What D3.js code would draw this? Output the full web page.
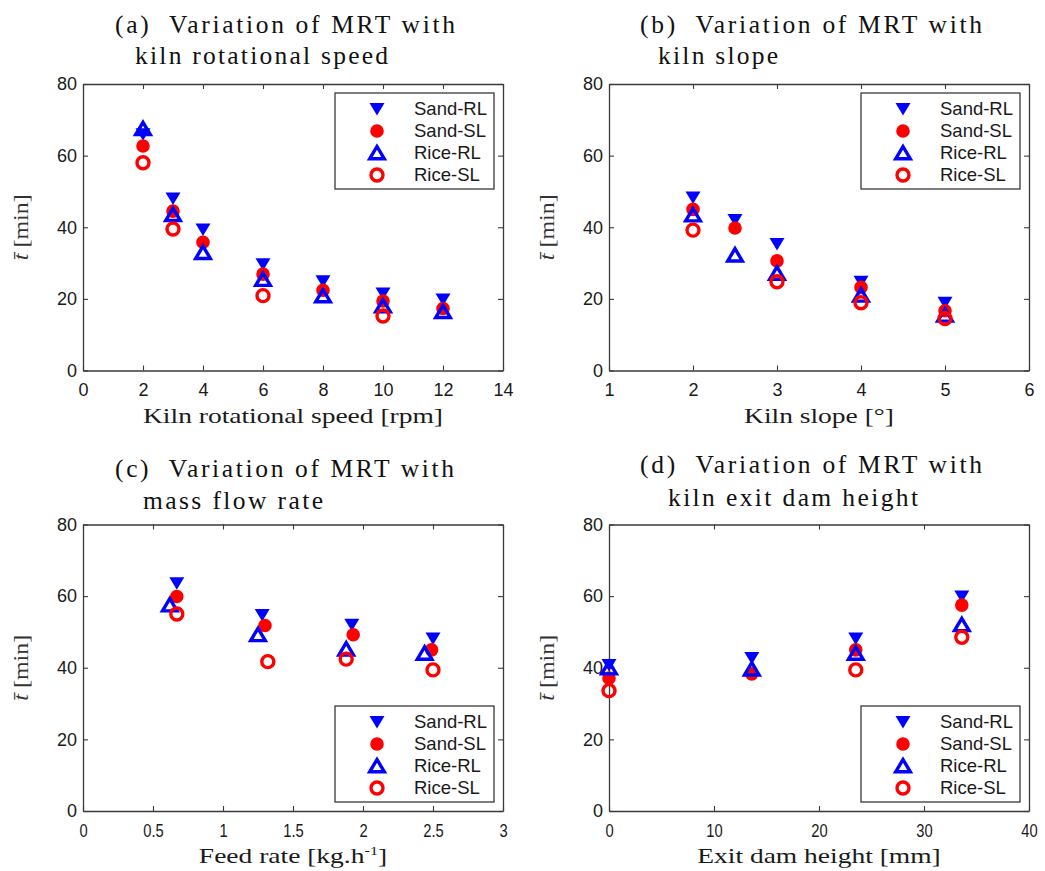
<!DOCTYPE html>
<html>
<head>
<meta charset="utf-8">
<script src="https://cdn.jsdelivr.net/npm/d3@7"></script>
<style>
  body { margin: 0; background: #fff; }
  svg { display: block; }
</style>
</head>
<body>
<div id="chart"></div>
<script>
// ---- data ----
const seriesNames = ["Sand-RL", "Sand-SL", "Rice-RL", "Rice-SL"];
const yTicks = [0, 20, 40, 60, 80];

// (a) kiln rotational speed
const speedTicks = [0, 2, 4, 6, 8, 10, 12, 14];
const speedX = [2, 3, 4, 6, 8, 10, 12];
const speedSandRL = [66, 48, 39.4, 29.7, 24.9, 21.5, 19.8];
const speedSandSL = [62.7, 44.5, 35.8, 26.9, 22.4, 19.4, 17.3];
const speedRiceRL = [67.5, 43.5, 32.9, 25.4, 20.8, 18.0, 16.4];
const speedRiceSL = [58.0, 39.5, null, 20.9, null, 15.2, null];

// (b) kiln slope
const slopeTicks = [1, 2, 3, 4, 5, 6];
const slopeX = [2, 2.5, 3, 4, 5];
const slopeSandRL = [48.3, 42.0, 35.3, 24.8, 18.9];
const slopeSandSL = [45.0, 39.8, 30.6, 23.2, 16.7];
const slopeRiceRL = [43.4, 32.2, 27.1, 21.0, 15.4];
const slopeRiceSL = [39.2, null, 24.8, 18.9, 14.5];

// (c) feed rate (each series sits at slightly different x)
const feedTicks = [0, 0.5, 1, 1.5, 2, 2.5, 3];
const feedSandRLx = [0.67, 1.28, 1.92, 2.50];
const feedSandRL = [63.6, 54.7, 52.0, 48.2];
const feedSandSLx = [0.67, 1.30, 1.93, 2.49];
const feedSandSL = [59.9, 51.8, 49.2, 45.0];
const feedRiceRLx = [0.62, 1.25, 1.88, 2.44];
const feedRiceRL = [57.5, 49.2, 45.2, 44.0];
const feedRiceSLx = [0.67, 1.32, 1.88, 2.50];
const feedRiceSL = [55.0, 41.7, 42.4, 39.4];

// (d) exit dam height
const damTicks = [0, 10, 20, 30, 40];
const damX = [0, 13.6, 23.5, 33.6];
const damSandRL = [40.8, 42.7, 48.2, 59.9];
const damSandSL = [37.1, 38.3, 45.0, 57.5];
const damRiceRL = [39.9, 39.6, 44.0, 52.0];
const damRiceSL = [33.6, null, 39.4, 48.5];

// ---- layout ----
const W = 420, H = 286.5;
const frameColor = "#3a3a3a";
const sansFont = "'Liberation Sans', Arial, sans-serif";
const serifFont = "'Liberation Serif', 'Times New Roman', serif";
const labelStretch = 1.25;   // Computer Modern is wider than Times

const svg = d3.select("#chart").append("svg")
  .attr("width", 1045)
  .attr("height", 871);

const circle = r => d3.arc()({ innerRadius: 0, outerRadius: r, startAngle: 0, endAngle: 2 * Math.PI });

// marker paths around (0,0)
const markers = {
  "Sand-RL": { d: "M-7.5,-6L7.5,-6L0,6.5Z", fill: "#0000ff", stroke: "none", sw: 0 },
  "Sand-SL": { d: circle(6.8), fill: "#ff0000", stroke: "none", sw: 0 },
  "Rice-RL": { d: "M0,-6.5L7.3,5.8L-7.3,5.8Z", fill: "none", stroke: "#0000ff", sw: 3.4 },
  "Rice-SL": { d: circle(6), fill: "none", stroke: "#ff0000", sw: 3.4 }
};

function drawMarker(sel, name) {
  const m = markers[name];
  sel.append("path")
    .attr("d", m.d)
    .attr("fill", m.fill)
    .attr("stroke", m.stroke)
    .attr("stroke-width", m.sw)
    .attr("stroke-linejoin", "miter");
}

const panels = [
  {
    left: 83, top: 84, xDomain: [0, 14], xTicks: speedTicks,
    title: [["(a)\u00a0 Variation of MRT with", 115, 33, 340], ["kiln rotational speed", 135, 64, 253]],
    xLabel: "Kiln rotational speed [rpm]", legendAt: "top", condensed: false,
    series: [[speedX, speedSandRL], [speedX, speedSandSL], [speedX, speedRiceRL], [speedX, speedRiceSL]]
  },
  {
    left: 609, top: 84, xDomain: [1, 6], xTicks: slopeTicks,
    title: [["(b)\u00a0 Variation of MRT with", 640, 33, 342], ["kiln slope", 658, 64, 120]],
    xLabel: "Kiln slope [°]", legendAt: "top", condensed: false,
    series: [[slopeX, slopeSandRL], [slopeX, slopeSandSL], [slopeX, slopeRiceRL], [slopeX, slopeRiceSL]]
  },
  {
    left: 83, top: 524.5, xDomain: [0, 3], xTicks: feedTicks,
    title: [["(c)\u00a0 Variation of MRT with", 115, 477, 339], ["mass flow rate", 143, 509, 180]],
    xLabel: "feed", legendAt: "bottom", condensed: true,
    series: [[feedSandRLx, feedSandRL], [feedSandSLx, feedSandSL], [feedRiceRLx, feedRiceRL], [feedRiceSLx, feedRiceSL]]
  },
  {
    left: 609, top: 524.5, xDomain: [0, 40], xTicks: damTicks,
    title: [["(d)\u00a0 Variation of MRT with", 640, 473, 342], ["kiln exit dam height", 668, 506, 250]],
    xLabel: "Exit dam height [mm]", legendAt: "bottom", condensed: true,
    series: [[damX, damSandRL], [damX, damSandSL], [damX, damRiceRL], [damX, damRiceSL]]
  }
];

function styleAxis(g) {
  g.select(".domain").attr("stroke", frameColor).attr("stroke-width", 1.3);
  g.selectAll(".tick line").attr("stroke", frameColor).attr("stroke-width", 1.1);
  g.selectAll(".tick text")
    .attr("fill", "#1a1a1a")
    .attr("font-family", sansFont)
    .attr("font-size", 18);
}

function drawPanel(p) {
  const x = d3.scaleLinear().domain(p.xDomain).range([0, W]);
  const y = d3.scaleLinear().domain([0, 80]).range([H, 0]);

  // titles
  p.title.forEach(t => {
    svg.append("text")
      .attr("x", t[1]).attr("y", t[2])
      .attr("font-family", serifFont)
      .attr("font-size", 25.5)
      .attr("fill", "#111")
      .attr("textLength", t[3])
      .attr("lengthAdjust", "spacing")
      .style("white-space", "pre")
      .text(t[0]);
  });

  const g = svg.append("g").attr("transform", `translate(${p.left},${p.top})`);

  // frame + inward ticks on all four sides
  const xb = g.append("g").attr("transform", `translate(0,${H})`)
    .call(d3.axisBottom(x).tickValues(p.xTicks).tickSize(-5).tickSizeOuter(0).tickPadding(13).tickFormat(d => String(d)));
  styleAxis(xb);
  if (p.condensed) xb.selectAll(".tick text").attr("transform", "scale(0.82,1)");

  const xt = g.append("g")
    .call(d3.axisTop(x).tickValues(p.xTicks).tickSize(-5).tickSizeOuter(0).tickFormat(""));
  styleAxis(xt);

  const yl = g.append("g")
    .call(d3.axisLeft(y).tickValues(yTicks).tickSize(-5).tickSizeOuter(0).tickPadding(6));
  styleAxis(yl);

  const yr = g.append("g").attr("transform", `translate(${W},0)`)
    .call(d3.axisRight(y).tickValues(yTicks).tickSize(-5).tickSizeOuter(0).tickFormat(""));
  styleAxis(yr);

  // x axis label, stretched horizontally about the plot centre
  const xl = g.append("text")
    .attr("transform", `translate(${W / 2},${H + 52}) scale(${labelStretch},1)`)
    .attr("text-anchor", "middle")
    .attr("font-family", serifFont)
    .attr("font-size", 22)
    .attr("fill", "#1a1a1a");
  if (p.xLabel === "feed") {
    xl.append("tspan").text("Feed rate [kg.h");
    xl.append("tspan").attr("dy", -8).attr("font-size", 13).text("-1");
    xl.append("tspan").attr("dy", 8).text("]");
  } else {
    xl.text(p.xLabel);
  }

  const ylab = g.append("text")
    .attr("transform", `translate(-55,${H / 2}) rotate(-90) scale(1.2,1)`)
    .attr("text-anchor", "middle")
    .attr("font-family", serifFont)
    .attr("font-size", 20)
    .attr("fill", "#333");
  ylab.append("tspan").attr("font-style", "italic").text("t\u0304");
  ylab.append("tspan").text(" [min]");

  // points, drawn in series order
  p.series.forEach((s, i) => {
    const name = seriesNames[i];
    const pts = s[0].map((xv, j) => ({ x: xv, y: s[1][j] })).filter(d => d.y != null);
    const sg = g.append("g").attr("class", "series");
    pts.forEach(d => {
      drawMarker(sg.append("g").attr("transform", `translate(${x(d.x)},${y(d.y)})`), name);
    });
  });

  // legend
  const lw = 159, lh = 96;
  const ly = p.legendAt === "top" ? 9 : H - 9 - lh;
  const lg = g.append("g").attr("transform", `translate(${W - 9 - lw},${ly})`);
  lg.append("rect")
    .attr("width", lw).attr("height", lh)
    .attr("fill", "#fff")
    .attr("stroke", frameColor)
    .attr("stroke-width", 1.3);
  seriesNames.forEach((name, i) => {
    const row = lg.append("g").attr("transform", `translate(0,${16 + i * 22})`);
    drawMarker(row.append("g").attr("transform", "translate(42,0)"), name);
    row.append("text")
      .attr("x", 79).attr("y", 0).attr("dy", "0.35em")
      .attr("font-family", sansFont)
      .attr("font-size", 18.5)
      .attr("fill", "#1a1a1a")
      .text(name);
  });
}

panels.forEach(drawPanel);
</script>
</body>
</html>
